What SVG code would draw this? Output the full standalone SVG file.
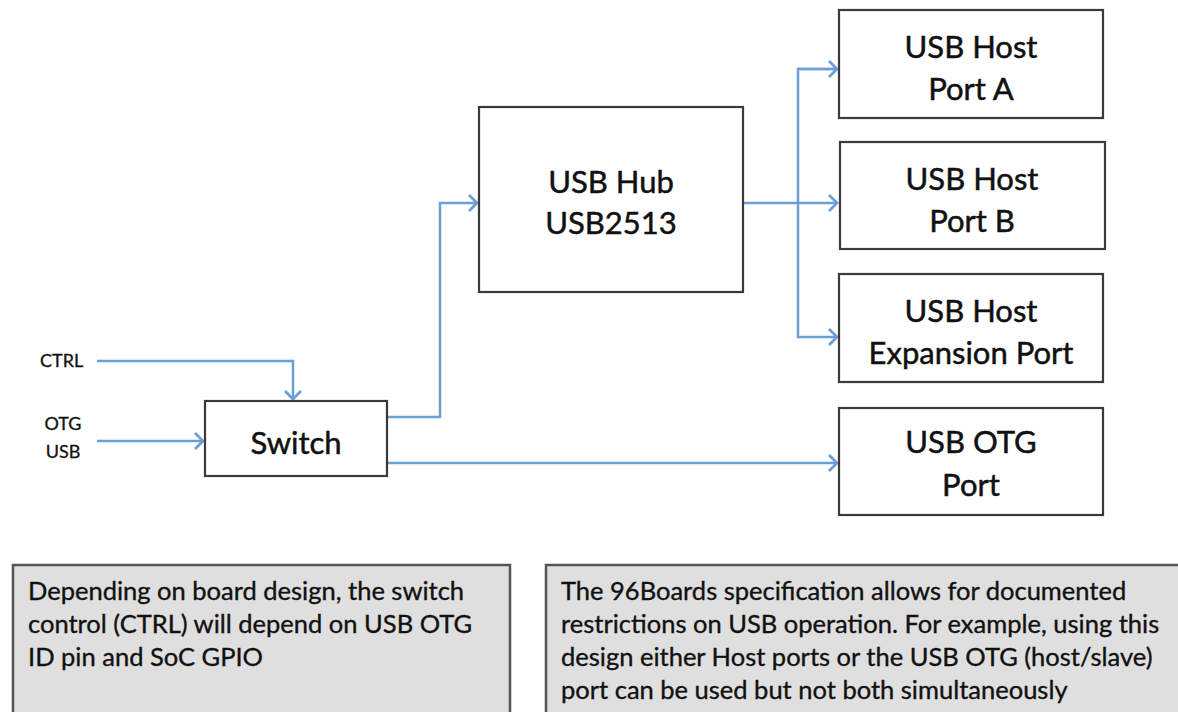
<svg xmlns="http://www.w3.org/2000/svg" width="1178" height="712" viewBox="0 0 1178 712">
<style>
.box{fill:#fff;stroke:#3a3a3a;stroke-width:2.2}
.note{fill:#dfdfdf;stroke:#555;stroke-width:2.5}
.t{font-family:Lato,"Liberation Sans",sans-serif;fill:#111;stroke:#111;stroke-width:0.5;text-anchor:middle;font-size:31px}
.lbl{font-family:Lato,"Liberation Sans",sans-serif;fill:#111;stroke:#111;stroke-width:0.3;font-size:18px}
.nt{font-family:Lato,"Liberation Sans",sans-serif;fill:#111;stroke:#111;stroke-width:0.35;font-size:25.5px}
.c{fill:none;stroke:#6e9fd4;stroke-width:2.5}
</style>
<defs>
<marker id="ah" markerUnits="userSpaceOnUse" markerWidth="20" markerHeight="20" viewBox="0 0 20 20" refX="12" refY="10" orient="auto">
<path d="M4,2 L12,10 L4,18" fill="none" stroke="#6e9fd4" stroke-width="2.8"/>
</marker>
</defs>
<rect width="1178" height="712" fill="#fff"/>
<g id="connectors">
<path class="c" d="M97,361 H293 V399" marker-end="url(#ah)"/>
<path class="c" d="M97,441 H203" marker-end="url(#ah)"/>
<path class="c" d="M387,417 H440 V203 H477" marker-end="url(#ah)"/>
<path class="c" d="M387,463 H837" marker-end="url(#ah)"/>
<path class="c" d="M743,203 H837" marker-end="url(#ah)"/>
<path class="c" d="M837,69 H798 V337 H837" marker-end="url(#ah)"/>
<path class="c" d="M798,69 H837" marker-end="url(#ah)"/>
</g>
<g id="label-ctrl"><text class="lbl" x="40" y="367">CTRL</text></g>
<g id="label-otg"><text class="lbl" x="63" y="430" text-anchor="middle">OTG</text><text class="lbl" x="63" y="458" text-anchor="middle">USB</text></g>
<g id="switch"><rect class="box" x="205" y="401" width="182" height="75"/><text class="t" x="296" y="454">Switch</text></g>
<g id="hub"><rect class="box" x="479" y="107" width="264" height="185"/><text class="t" x="611" y="193">USB Hub</text><text class="t" x="611" y="234">USB2513</text></g>
<g id="port-a"><rect class="box" x="839" y="10" width="264" height="108"/><text class="t" x="971" y="58">USB Host</text><text class="t" x="971" y="100">Port A</text></g>
<g id="port-b"><rect class="box" x="840" y="142" width="265" height="107"/><text class="t" x="972" y="190">USB Host</text><text class="t" x="972" y="232">Port B</text></g>
<g id="port-exp"><rect class="box" x="839" y="274" width="264" height="108"/><text class="t" x="971" y="322">USB Host</text><text class="t" x="971" y="364">Expansion Port</text></g>
<g id="port-otg"><rect class="box" x="839" y="408" width="264" height="107"/><text class="t" x="971" y="453">USB OTG</text><text class="t" x="971" y="496">Port</text></g>
<g id="note-left"><rect class="note" x="13" y="565" width="497" height="170"/>
<text class="nt" x="28" y="600">Depending on board design, the switch</text>
<text class="nt" x="28" y="633">control (CTRL) will depend on USB OTG</text>
<text class="nt" x="28" y="666">ID pin and SoC GPIO</text></g>
<g id="note-right"><rect class="note" x="546" y="565" width="660" height="170"/>
<text class="nt" x="561" y="600">The 96Boards specification allows for documented</text>
<text class="nt" x="561" y="633">restrictions on USB operation. For example, using this</text>
<text class="nt" x="561" y="666">design either Host ports or the USB OTG (host/slave)</text>
<text class="nt" x="561" y="699">port can be used but not both simultaneously</text></g>
</svg>
